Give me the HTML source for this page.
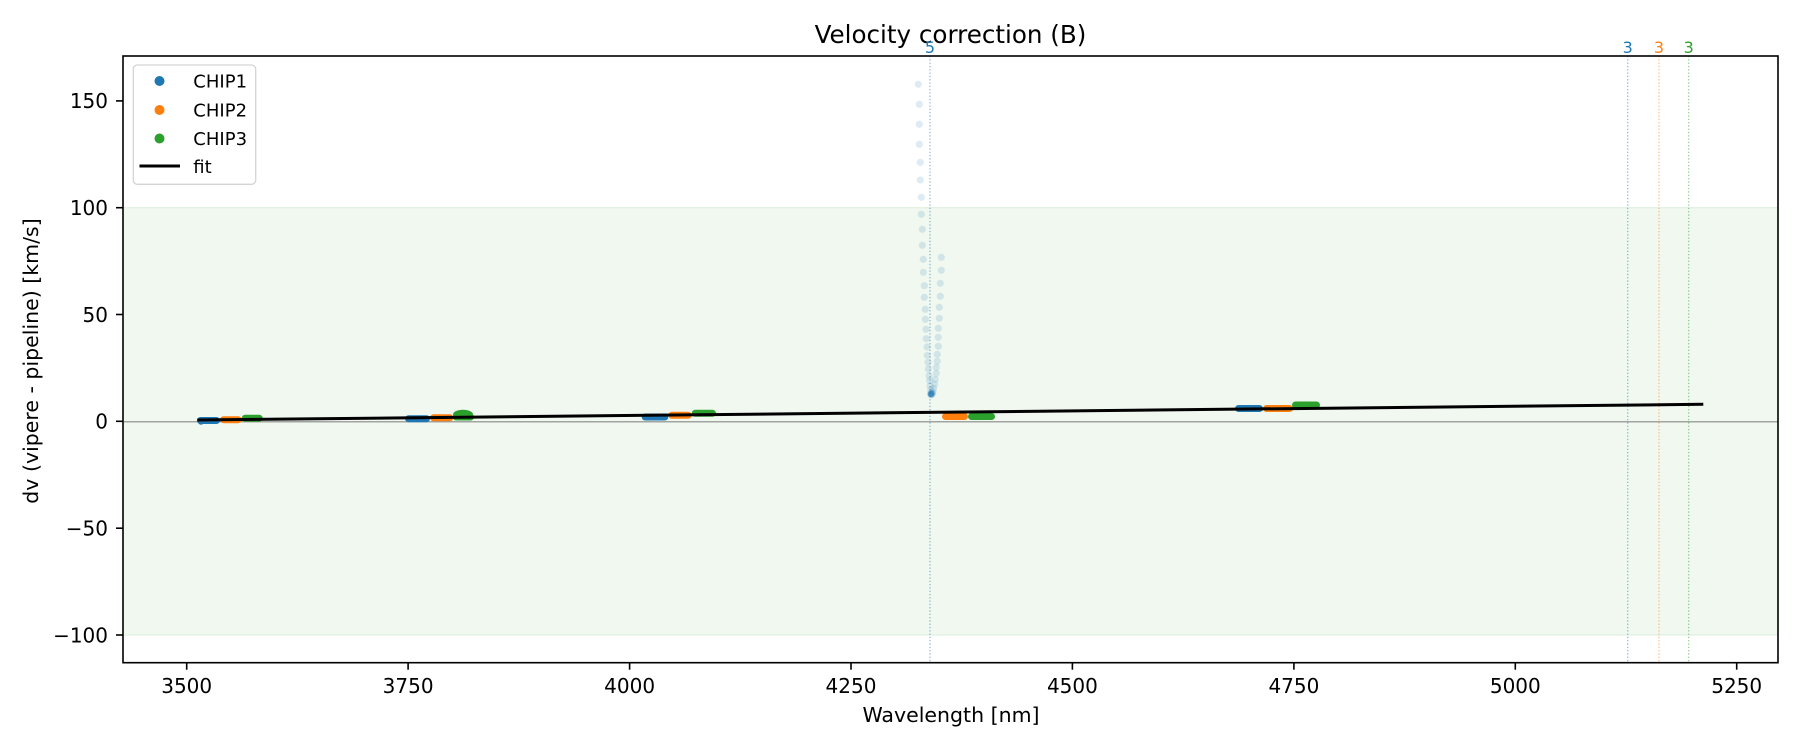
<!DOCTYPE html>
<html><head><meta charset="utf-8"><style>
html,body{margin:0;padding:0;background:#fff;}
svg{display:block;font-family:"DejaVu Sans","Liberation Sans",sans-serif;}
</style></head><body>
<svg width="1800" height="750" viewBox="0 0 1800 750" xmlns="http://www.w3.org/2000/svg">
<rect x="0" y="0" width="1800" height="750" fill="#fff"/>
<!-- shaded band -->
<rect x="123" y="207.7" width="1655" height="427.3" fill="rgb(240,248,240)"/>
<line x1="123" y1="207.7" x2="1778" y2="207.7" stroke="rgb(224,240,224)" stroke-width="1.2"/>
<line x1="123" y1="635" x2="1778" y2="635" stroke="rgb(224,240,224)" stroke-width="1.2"/>
<!-- zero line -->
<line x1="123" y1="421.8" x2="1778" y2="421.8" stroke="#888" stroke-width="1.2"/>
<!-- vertical dotted lines -->
<g stroke-width="1.3" stroke-dasharray="1.3 2" opacity="0.5">
<line x1="930" y1="56" x2="930" y2="662.7" stroke="#1f77b4"/>
<line x1="1627.7" y1="56" x2="1627.7" y2="662.7" stroke="#1f77b4"/>
<line x1="1659" y1="56" x2="1659" y2="662.7" stroke="#ff7f0e"/>
<line x1="1688.7" y1="56" x2="1688.7" y2="662.7" stroke="#2ca02c"/>
</g>
<!-- faint points -->
<g fill="#1f77b4" fill-opacity="0.15">
<circle cx="918.3" cy="84.3" r="3.6"/><circle cx="919.3" cy="104.3" r="3.6"/><circle cx="919.3" cy="124.3" r="3.6"/><circle cx="919.3" cy="144.3" r="3.6"/><circle cx="920.3" cy="162.3" r="3.6"/><circle cx="920.3" cy="180" r="3.6"/><circle cx="921.3" cy="197.3" r="3.6"/><circle cx="921.3" cy="214.3" r="3.6"/><circle cx="922.3" cy="229.3" r="3.6"/><circle cx="922.3" cy="245.3" r="3.6"/><circle cx="923.3" cy="259.3" r="3.6"/><circle cx="923.3" cy="272.3" r="3.6"/><circle cx="924.3" cy="285.7" r="3.6"/><circle cx="924.3" cy="297.3" r="3.6"/><circle cx="925.3" cy="309.3" r="3.6"/><circle cx="925.3" cy="319.3" r="3.6"/><circle cx="926" cy="329.3" r="3.6"/><circle cx="926.3" cy="338.7" r="3.6"/><circle cx="927" cy="347" r="3.6"/><circle cx="927.3" cy="355.3" r="3.6"/><circle cx="928" cy="362.3" r="3.6"/><circle cx="928.3" cy="369" r="3.6"/><circle cx="929" cy="375.7" r="3.6"/><circle cx="929.7" cy="380.7" r="3.6"/><circle cx="930" cy="386" r="3.6"/><circle cx="930.7" cy="390" r="3.6"/><circle cx="931.3" cy="393.3" r="3.6"/>
<circle cx="941.3" cy="257.3" r="3.6"/><circle cx="941.3" cy="270.3" r="3.6"/><circle cx="940.3" cy="283.3" r="3.6"/><circle cx="940.3" cy="296.3" r="3.6"/><circle cx="939.3" cy="307.3" r="3.6"/><circle cx="939.3" cy="318.3" r="3.6"/><circle cx="938.3" cy="328.3" r="3.6"/><circle cx="938.3" cy="337.3" r="3.6"/><circle cx="938.3" cy="346.3" r="3.6"/><circle cx="937.3" cy="354.3" r="3.6"/><circle cx="937.3" cy="361.3" r="3.6"/><circle cx="936.3" cy="367.3" r="3.6"/><circle cx="936.3" cy="373.3" r="3.6"/><circle cx="935.3" cy="379.3" r="3.6"/><circle cx="934.7" cy="384.3" r="3.6"/><circle cx="933.7" cy="388.3" r="3.6"/><circle cx="933" cy="391.7" r="3.6"/><circle cx="932.3" cy="394" r="3.6"/>
<circle cx="931" cy="395" r="3.6"/><circle cx="931.5" cy="394.5" r="3.6"/><circle cx="930.5" cy="393.5" r="3.6"/><circle cx="932" cy="393" r="3.6"/><circle cx="931" cy="394" r="3.6"/>
</g>
<!-- chip blobs -->
<g stroke-width="7" stroke-linecap="round" fill="none">
<line x1="200.5" y1="420.5" x2="216.5" y2="420.5" stroke="#1f77b4"/>
<line x1="223.5" y1="419.7" x2="238.2" y2="419.7" stroke="#ff7f0e"/>
<line x1="245.2" y1="418.2" x2="259.2" y2="418.2" stroke="#2ca02c"/>
<line x1="408.5" y1="418.7" x2="426.5" y2="418.7" stroke="#1f77b4"/>
<line x1="433.5" y1="417.8" x2="449.8" y2="417.8" stroke="#ff7f0e"/>
<line x1="456.2" y1="417" x2="470.5" y2="417" stroke="#2ca02c"/>
<line x1="645.2" y1="417" x2="664.8" y2="417" stroke="#1f77b4"/>
<line x1="671.8" y1="415.3" x2="688.2" y2="415.3" stroke="#ff7f0e"/>
<line x1="695.2" y1="413.3" x2="712.5" y2="413.3" stroke="#2ca02c"/>
<line x1="945.5" y1="416.5" x2="964.5" y2="416.5" stroke="#ff7f0e"/>
<line x1="971.5" y1="416.5" x2="991.5" y2="416.5" stroke="#2ca02c"/>
<line x1="1238.5" y1="408.5" x2="1259.5" y2="408.5" stroke="#1f77b4"/>
<line x1="1266.5" y1="408.5" x2="1289.5" y2="408.5" stroke="#ff7f0e"/>
<line x1="1295.5" y1="405" x2="1316.5" y2="405" stroke="#2ca02c"/>
</g>
<circle cx="201" cy="421.5" r="3.2" fill="#1f77b4"/>
<ellipse cx="463" cy="414.5" rx="10" ry="4.8" fill="#2ca02c"/>
<circle cx="931" cy="394" r="3" fill="#1f77b4" fill-opacity="0.5"/>
<!-- fit -->
<line x1="197.3" y1="420" x2="1703.3" y2="404.3" stroke="#000" stroke-width="3"/>
<!-- spines -->
<rect x="123" y="56" width="1655" height="606.7" fill="none" stroke="#000" stroke-width="1.6"/>
<!-- y ticks -->
<g stroke="#000" stroke-width="1.6">
<line x1="116" y1="100.9" x2="123" y2="100.9"/>
<line x1="116" y1="207.7" x2="123" y2="207.7"/>
<line x1="116" y1="314.5" x2="123" y2="314.5"/>
<line x1="116" y1="421.3" x2="123" y2="421.3"/>
<line x1="116" y1="528.2" x2="123" y2="528.2"/>
<line x1="116" y1="635" x2="123" y2="635"/>
</g>
<g font-size="20" text-anchor="end" fill="#000">
<text x="108" y="108.2">150</text>
<text x="108" y="215">100</text>
<text x="108" y="321.8">50</text>
<text x="108" y="428.6">0</text>
<text x="108" y="535.5">−50</text>
<text x="108" y="642.3">−100</text>
</g>
<!-- x ticks -->
<g stroke="#000" stroke-width="1.6">
<line x1="186.7" y1="662.7" x2="186.7" y2="669.7"/>
<line x1="408.1" y1="662.7" x2="408.1" y2="669.7"/>
<line x1="629.6" y1="662.7" x2="629.6" y2="669.7"/>
<line x1="851" y1="662.7" x2="851" y2="669.7"/>
<line x1="1072.4" y1="662.7" x2="1072.4" y2="669.7"/>
<line x1="1293.9" y1="662.7" x2="1293.9" y2="669.7"/>
<line x1="1515.3" y1="662.7" x2="1515.3" y2="669.7"/>
<line x1="1736.7" y1="662.7" x2="1736.7" y2="669.7"/>
</g>
<g font-size="20" text-anchor="middle" fill="#000">
<text x="186.7" y="693">3500</text>
<text x="408.1" y="693">3750</text>
<text x="629.6" y="693">4000</text>
<text x="851" y="693">4250</text>
<text x="1072.4" y="693">4500</text>
<text x="1293.9" y="693">4750</text>
<text x="1515.3" y="693">5000</text>
<text x="1736.7" y="693">5250</text>
</g>
<!-- labels -->
<text x="951" y="722" font-size="20.5" text-anchor="middle">Wavelength [nm]</text>
<text transform="translate(38,361) rotate(-90)" font-size="20.5" text-anchor="middle">dv (vipere - pipeline) [km/s]</text>
<text x="950.5" y="43" font-size="24.6" text-anchor="middle">Velocity correction (B)</text>
<!-- vline labels -->
<g font-size="16" text-anchor="middle">
<text x="930" y="53" fill="#1f77b4">5</text>
<text x="1627.7" y="53" fill="#1f77b4">3</text>
<text x="1659" y="53" fill="#ff7f0e">3</text>
<text x="1688.7" y="53" fill="#2ca02c">3</text>
</g>
<!-- legend -->
<rect x="133.3" y="65" width="122.4" height="119.3" rx="4" ry="4" fill="#fff" fill-opacity="0.8" stroke="#d4d4d4" stroke-width="1.3"/>
<circle cx="159.5" cy="81" r="5" fill="#1f77b4"/>
<circle cx="159.5" cy="110" r="5" fill="#ff7f0e"/>
<circle cx="159.5" cy="138.5" r="5" fill="#2ca02c"/>
<line x1="139.5" y1="166" x2="180" y2="166" stroke="#000" stroke-width="3"/>
<g font-size="18" fill="#000">
<text x="193.3" y="87.5">CHIP1</text>
<text x="193.3" y="116.5">CHIP2</text>
<text x="193.3" y="145">CHIP3</text>
<text x="193.3" y="173">fit</text>
</g>
</svg>
</body></html>
